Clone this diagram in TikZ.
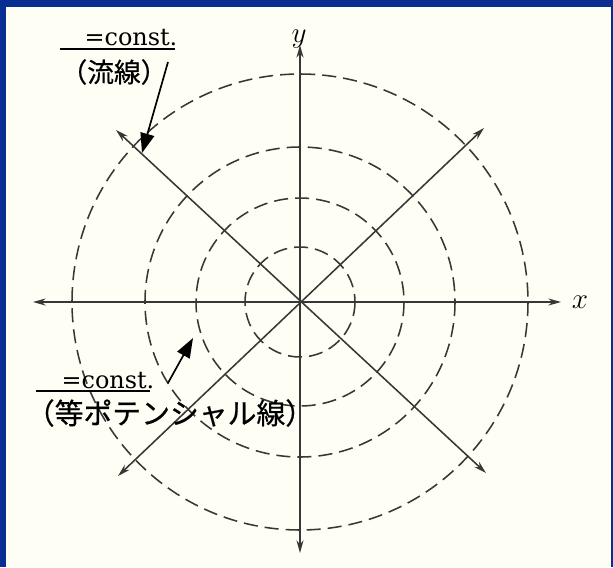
\documentclass[tikz,border=0pt]{standalone}
\usepackage{fontspec}
\setmainfont{DejaVu Serif}
\newfontfamily\jpfont[FakeBold=0.6]{Noto Sans CJK JP}
\usetikzlibrary{arrows.meta}
\definecolor{frameblue}{RGB}{10,45,145}
\definecolor{paper}{RGB}{254,254,244}
\definecolor{ink}{RGB}{55,55,55}

\begin{document}
\begin{tikzpicture}[
    x=0.025cm,
    y=-0.025cm,
    axis/.style={{Stealth[length=9pt,width=5pt]}-{Stealth[length=9pt,width=5pt]}, draw=ink, line width=1.1pt},
    level/.style={draw=ink, line width=1.1pt, dash pattern=on 10pt off 5pt},
    pointer/.style={-{Triangle[length=14pt,width=10pt]}, line width=1.2pt, draw=black},
    constlab/.style={font=\fontsize{17}{17}\selectfont, anchor=base},
    jplab/.style={font=\jpfont\fontsize{19}{19}\selectfont},
    bar/.style={line width=1.4pt, draw=black}
]
\fill[frameblue] (0,0) rectangle (613,567);
\fill[paper] (6,7) rectangle (611,567);

\coordinate (o) at (300,302);
\foreach \r in {55,104,155,228}
  \draw[level] (o) circle[radius=\r];

\coordinate (xl) at (33,302);
\coordinate (xr) at (561,302);
\coordinate (yt) at (300,45);
\coordinate (yb) at (300,553);
\coordinate (ul) at (116,130);
\coordinate (dr) at (486,473);
\coordinate (ur) at (484,128);
\coordinate (dl) at (118,476);

\foreach \a/\b in {xl/xr,yb/yt,ul/dr,dl/ur}
  \draw[axis] (\a) -- (\b);

\node[font=\fontsize{21}{21}\selectfont] (ylab) at (299,39) {$y$};
\node[font=\fontsize{21}{21}\selectfont] (xlab) at (580,302) {$x$};

\node[constlab] (c1) at (131,45) {=const.};
\draw[bar] (60,49) -- (175,49);
\node[jplab] (s1) at (114,72) {（流線）};
\coordinate (a1) at (168,62);
\coordinate (p1) at (142,153);
\draw[pointer] (a1) -- (p1);

\node[constlab] (c2) at (108,388) {=const.};
\draw[bar] (36,391) -- (150,391);
\node[jplab, font=\jpfont\fontsize{20.5}{20.5}\selectfont] (s2) at (170,413) {（等ポテンシャル線）};
\coordinate (a2) at (168,383);
\coordinate (p2) at (193,338);
\draw[pointer] (a2) -- (p2);
\end{tikzpicture}
\end{document}
